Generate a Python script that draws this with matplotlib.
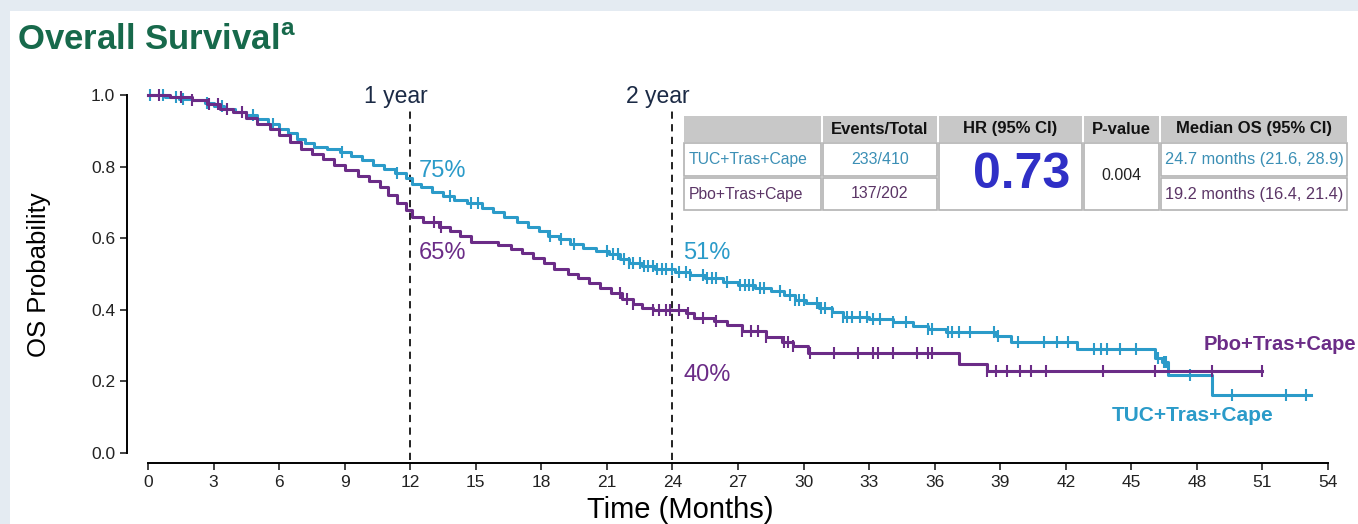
import numpy as np
import matplotlib
matplotlib.use('Agg')
import matplotlib.pyplot as plt
from matplotlib.patches import Rectangle

plt.rcParams['font.family'] = ['Liberation Sans', 'DejaVu Sans']

W, H = 1358, 524

# ---- data ----
# TUC+Tras+Cape: event times (months) and survival after each drop
tuc_t = [0, 0.8, 1.4, 2.0, 2.6, 3.0, 3.5, 4.0, 4.5, 5.0, 5.5, 6.0, 6.4, 6.8, 7.2, 7.6,
         8.2, 8.8, 9.3, 9.8, 10.3, 10.8, 11.3, 11.8, 12.1, 12.5, 13.0, 13.5, 14.0, 14.6,
         15.3, 15.8, 16.3, 16.9, 17.4, 17.9, 18.3, 18.8, 19.3, 19.9, 20.5, 21.1, 21.6,
         22.0, 22.6, 23.2, 24.1, 24.8, 25.5, 26.3, 27.0, 27.8, 28.5, 29.1, 29.6, 30.1,
         30.7, 31.3, 31.8, 33.0, 34.1, 35.0, 35.7, 36.5, 38.8, 39.5, 42.5, 46.1, 46.4,
         46.7, 48.7, 53.2]
tuc_s = [1.0, 0.995, 0.99, 0.985, 0.978, 0.97, 0.962, 0.952, 0.943, 0.932, 0.92, 0.905,
         0.893, 0.878, 0.865, 0.855, 0.848, 0.84, 0.83, 0.818, 0.805, 0.793, 0.782, 0.768,
         0.752, 0.742, 0.73, 0.718, 0.708, 0.698, 0.685, 0.672, 0.66, 0.645, 0.632, 0.62,
         0.607, 0.597, 0.585, 0.573, 0.563, 0.555, 0.543, 0.532, 0.522, 0.515, 0.506,
         0.497, 0.489, 0.478, 0.47, 0.462, 0.452, 0.44, 0.428, 0.418, 0.405, 0.393, 0.38,
         0.373, 0.366, 0.355, 0.347, 0.337, 0.328, 0.31, 0.29, 0.265, 0.254, 0.218, 0.162,
         0.162]
tuc_cens = [0.1, 0.7, 1.3, 1.6, 2.7, 3.4, 4.8, 5.7, 8.9, 11.4, 13.8, 14.8, 15.1, 18.4,
            18.9, 19.5, 21.0, 21.3, 21.5, 21.8, 22.0, 22.2, 22.5, 22.7, 22.9, 23.1, 23.3,
            23.5, 23.7, 24.0, 24.3, 24.6, 24.8, 25.4, 25.6, 25.8, 26.0, 26.5, 27.1, 27.3,
            27.5, 27.7, 28.0, 28.2, 28.9, 29.4, 29.6, 29.8, 30.0, 30.6, 30.8, 31.0, 31.3,
            31.8, 32.0, 32.2, 32.6, 32.9, 33.2, 33.5, 34.1, 34.7, 35.7, 35.9, 36.6, 36.8,
            37.1, 37.6, 38.7, 38.9, 39.8, 41.0, 41.6, 42.1, 43.3, 43.6, 43.9, 44.5, 45.2,
            46.2, 46.5, 46.6, 47.7, 49.6, 52.1, 53.0]

# Pbo+Tras+Cape
pbo_t = [0, 1.0, 2.0, 2.7, 3.3, 3.9, 4.5, 5.0, 5.6, 6.0, 6.5, 7.0, 7.5, 8.0, 8.5, 9.0,
         9.6, 10.1, 10.6, 11.0, 11.4, 11.8, 12.1, 12.6, 13.3, 13.8, 14.3, 14.8, 16.0,
         16.6, 17.1, 17.6, 18.1, 18.6, 19.2, 19.7, 20.2, 20.7, 21.2, 21.7, 22.2, 22.6,
         23.1, 24.6, 25.0, 25.9, 26.5, 27.2, 28.3, 29.0, 29.5, 30.2, 37.1, 38.4, 51.0]
pbo_s = [1.0, 0.995, 0.985, 0.975, 0.962, 0.952, 0.935, 0.92, 0.905, 0.888, 0.87, 0.85,
         0.835, 0.82, 0.805, 0.79, 0.775, 0.76, 0.742, 0.72, 0.698, 0.678, 0.66, 0.645,
         0.632, 0.62, 0.605, 0.59, 0.58, 0.57, 0.558, 0.545, 0.53, 0.515, 0.5, 0.488,
         0.475, 0.462, 0.447, 0.43, 0.415, 0.405, 0.4, 0.39, 0.378, 0.368, 0.357, 0.342,
         0.325, 0.31, 0.298, 0.28, 0.25, 0.228, 0.228]
pbo_cens = [0.5, 1.5, 2.0, 2.8, 3.2, 3.6, 4.3, 13.1, 13.4, 21.6, 21.9, 22.2, 23.1, 23.4,
            23.7, 23.9, 24.3, 24.7, 25.4, 26.0, 27.2, 27.6, 27.9, 28.3, 29.1, 29.3, 29.5,
            30.3, 31.4, 32.5, 33.2, 33.4, 34.1, 35.2, 35.7, 35.9, 38.4, 38.8, 39.3, 39.9,
            40.4, 41.1, 43.7, 46.1, 48.7, 51.0]

# landmark annotations
landmarks = [12, 24]
landmark_labels = ['1 year', '2 year']
tuc_pct = ['75%', '51%']
pbo_pct = ['65%', '40%']

# table
tbl_header = ['', 'Events/Total', 'HR (95% CI)', 'P-value', 'Median OS (95% CI)']
tbl_arms = ['TUC+Tras+Cape', 'Pbo+Tras+Cape']
tbl_events = ['233/410', '137/202']
tbl_hr = '0.73'
tbl_p = '0.004'
tbl_median = ['24.7 months (21.6, 28.9)', '19.2 months (16.4, 21.4)']

blue = '#2b9bc9'
purple = '#6b2c87'


def fx(x):
    return x / W


def fy(y):
    return 1 - y / H


def surv_at(times, surv, t):
    i = np.searchsorted(times, t, side='right') - 1
    return np.asarray(surv)[i]


fig = plt.figure(figsize=(W / 100, H / 100), dpi=100)
fig.patch.set_facecolor('#e4ebf2')
fig.add_artist(Rectangle((fx(10), 0), 1 - fx(10), fy(11), transform=fig.transFigure,
                         facecolor='white', edgecolor='none', zorder=0))

ax = fig.add_axes([fx(148), fy(453), fx(1328) - fx(148), fy(95) - fy(453)])
ax.set_facecolor('none')

for t, s, c, col in [(tuc_t, tuc_s, tuc_cens, blue), (pbo_t, pbo_s, pbo_cens, purple)]:
    ax.step(t, s, where='post', color=col, lw=2.2, clip_on=False, zorder=3)
    ax.plot(c, surv_at(t, s, c), ls='none', marker='|', ms=9, mew=1.5, color=col,
            clip_on=False, zorder=3)

for x, lab in zip(landmarks, landmark_labels):
    ax.plot([x, x], [-0.02, 0.96], color='#111111', ls=(0, (4, 3)), lw=1.3, clip_on=False)
    ax.text(x - 0.65, 0.995, lab, ha='center', va='center', fontsize=16.5, color='#1b2a45')

ax.text(12.4, 0.788, tuc_pct[0], fontsize=17, color=blue, va='center')
ax.text(12.4, 0.559, pbo_pct[0], fontsize=17, color=purple, va='center')
ax.text(24.5, 0.559, tuc_pct[1], fontsize=17, color=blue, va='center')
ax.text(24.5, 0.218, pbo_pct[1], fontsize=17, color=purple, va='center')

ax.text(55.3, 0.302, tbl_arms[1], fontsize=14.5, fontweight='bold', color=purple,
        ha='right', va='center')
ax.text(47.8, 0.106, tbl_arms[0], fontsize=15, fontweight='bold', color=blue,
        ha='center', va='center')

ax.set_xlim(0, 54)
ax.set_ylim(0, 1)
ax.set_xticks(np.arange(0, 55, 3))
ax.set_yticks(np.arange(0, 1.01, 0.2))
ax.set_yticklabels(['%.1f' % v for v in np.arange(0, 1.01, 0.2)])
for sp in ['top', 'right']:
    ax.spines[sp].set_visible(False)
ax.spines['left'].set_position(('outward', 15))
ax.spines['bottom'].set_position(('outward', 7))
ax.spines['left'].set_linewidth(1.4)
ax.spines['bottom'].set_linewidth(1.4)
ax.spines['bottom'].set_bounds(0, 54)
ax.tick_params(axis='both', labelsize=12.5, colors='#222222', width=1.2, length=5)
ax.set_xlabel('Time (Months)', fontsize=21, va='center')
ax.xaxis.set_label_coords(0.451, -0.16)
ax.set_ylabel('OS Probability', fontsize=18.5, va='center')
ax.yaxis.set_label_coords(-0.092, 0.497)

# title
fig.text(fx(17), fy(41), 'Overall Survival$^{\\mathregular{a}}$', fontsize=25,
         fontweight='bold', color='#17694b', va='center')

# ---- table ----
cols = [683, 822, 938, 1083, 1160, 1348]
rows = [116, 142, 177, 211]
grid = '#b3b3b3'
for i in range(5):
    fig.add_artist(Rectangle((fx(cols[i] + 1), fy(rows[1])), fx(cols[i + 1] - cols[i] - 2),
                             fy(rows[0]) - fy(rows[1]), transform=fig.transFigure,
                             facecolor='#c8c8c8', edgecolor='none', zorder=2))
    if tbl_header[i]:
        fig.text(fx((cols[i] + cols[i + 1]) / 2), fy(129), tbl_header[i], fontsize=12,
                 fontweight='bold', color='#111111', ha='center', va='center')
for r in range(2):
    y0, y1 = rows[r + 1], rows[r + 2]
    for i in [0, 1, 4]:
        fig.add_artist(Rectangle((fx(cols[i] + 1), fy(y1 - 1)), fx(cols[i + 1] - cols[i] - 2),
                                 fy(y0 + 1) - fy(y1 - 1), transform=fig.transFigure,
                                 facecolor='white', edgecolor=grid, lw=1.2, zorder=2))
    tcol = '#3b8fb5' if r == 0 else '#5b3566'
    yc = (y0 + y1) / 2
    fig.text(fx(cols[0] + 6), fy(yc), tbl_arms[r], fontsize=11.3, color=tcol, va='center')
    fig.text(fx((cols[1] + cols[2]) / 2), fy(yc), tbl_events[r], fontsize=11.5, color=tcol,
             ha='center', va='center')
    fig.text(fx((cols[4] + cols[5]) / 2), fy(yc), tbl_median[r], fontsize=11.8, color=tcol,
             ha='center', va='center')
for i in [2, 3]:
    fig.add_artist(Rectangle((fx(cols[i] + 1), fy(rows[3] - 1)), fx(cols[i + 1] - cols[i] - 2),
                             fy(rows[1] + 1) - fy(rows[3] - 1), transform=fig.transFigure,
                             facecolor='white', edgecolor=grid, lw=1.2, zorder=2))
fig.text(fx(1022), fy(175), tbl_hr, fontsize=36, fontweight='bold',
         color='#2f2fc6', ha='center', va='center')
fig.text(fx((cols[3] + cols[4]) / 2), fy(176), tbl_p, fontsize=11.5, color='#222222',
         ha='center', va='center')

fig.savefig('out.png', dpi=100, facecolor=fig.get_facecolor())
